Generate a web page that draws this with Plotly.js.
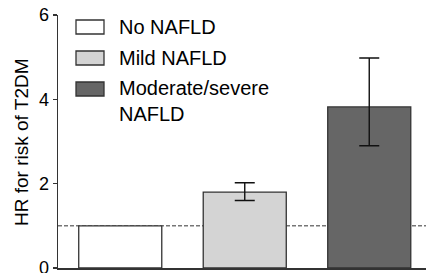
<!DOCTYPE html>
<html>
<head>
<meta charset="utf-8">
<script src="https://cdn.plot.ly/plotly-3.0.1.min.js"></script>
<style>
  html, body { margin: 0; padding: 0; background: #fff; }
  #chart { width: 426px; height: 273px; }
</style>
</head>
<body>
<div id="chart"></div>
<script>
// ---- data ----
const categories = ["No NAFLD", "Mild NAFLD", "Moderate/severe NAFLD"];
const legendLabels = ["No NAFLD", "Mild NAFLD", "Moderate/severe<br>NAFLD"];
const yTitle = "HR for risk of T2DM";
const hr = [1.0, 1.80, 3.82];
const ciUpper = [null, 2.02, 4.98];
const ciLower = [null, 1.60, 2.90];
const refLine = 1;
const barColors = ["#ffffff", "#d4d4d4", "#666666"];
const yTicks = [0, 2, 4, 6];

// ---- geometry (pixels) ----
const W = 426, H = 273;
const mL = 58, mR = 0, mT = 15, mB = 5;
const plotW = W - mL - mR, plotH = H - mT - mB;
const catStep = 124.5; // px per category
const xMax = -0.5 + plotW / catStep;

function px2paperX(px) { return (px - mL) / plotW; }
function px2paperY(py) { return (H - mB - py) / plotH; }

const errPlus = ciUpper.map((u, i) => u === null ? NaN : u - hr[i]);
const errMinus = ciLower.map((l, i) => l === null ? NaN : hr[i] - l);

const trace = {
  type: "bar",
  x: categories,
  y: hr,
  marker: { color: barColors, line: { color: "#333333", width: 1.3 } },
  error_y: {
    type: "data",
    symmetric: false,
    array: errPlus,
    arrayminus: errMinus,
    visible: true,
    color: "#111111",
    thickness: 1.4,
    width: 10
  },
  showlegend: false,
  hoverinfo: "x+y"
};

const font = "Liberation Sans, Arial, sans-serif";

// legend made of shapes + annotations
const legendRows = [27, 58, 89];
const shapes = [
  {
    type: "line", xref: "paper", yref: "y",
    x0: 0, x1: 1, y0: refLine, y1: refLine,
    line: { color: "#333333", width: 1, dash: "4px,2px" },
    layer: "below"
  }
];
const annotations = [];
legendRows.forEach((cy, i) => {
  shapes.push({
    type: "rect", xref: "paper", yref: "paper",
    x0: px2paperX(76), x1: px2paperX(104),
    y0: px2paperY(cy + 7), y1: px2paperY(cy - 7),
    fillcolor: barColors[i],
    line: { color: "#333333", width: 1.3 }
  });
  const multi = legendLabels[i].indexOf("<br>") >= 0;
  annotations.push({
    xref: "paper", yref: "paper",
    x: px2paperX(117), y: multi ? px2paperY(cy - 14) : px2paperY(cy),
    xanchor: "left", yanchor: multi ? "top" : "middle",
    align: "left",
    showarrow: false,
    text: legendLabels[i],
    font: { family: font, size: 20, color: "#000000" }
  });
});

// y-axis title as a rotated annotation (precise placement)
annotations.push({
  xref: "paper", yref: "paper",
  x: px2paperX(21), y: px2paperY(142),
  xanchor: "center", yanchor: "middle",
  textangle: -90,
  showarrow: false,
  text: yTitle,
  font: { family: font, size: 19, color: "#000000" }
});

const layout = {
  width: W, height: H,
  margin: { l: mL, r: mR, t: mT, b: mB, pad: 0 },
  paper_bgcolor: "#ffffff",
  plot_bgcolor: "#ffffff",
  bargap: 0.333,
  xaxis: {
    type: "category",
    range: [-0.5, xMax],
    showticklabels: false,
    ticks: "",
    showgrid: false,
    zeroline: false,
    showline: true,
    linecolor: "#333333",
    linewidth: 1.5,
    fixedrange: true
  },
  yaxis: {
    range: [0, 6],
    tickvals: yTicks,
    ticktext: yTicks.map(String),
    ticks: "outside",
    ticklen: 4,
    tickwidth: 1.3,
    tickcolor: "#333333",
    ticklabeloverflow: "allow",
    showgrid: false,
    zeroline: false,
    showline: true,
    linecolor: "#333333",
    linewidth: 1.5,
    tickfont: { family: font, size: 18, color: "#000000" },
    automargin: false,
    fixedrange: true
  },
  shapes: shapes,
  annotations: annotations,
  showlegend: false
};

Plotly.newPlot("chart", [trace], layout, { displayModeBar: false, staticPlot: true });
</script>
</body>
</html>
